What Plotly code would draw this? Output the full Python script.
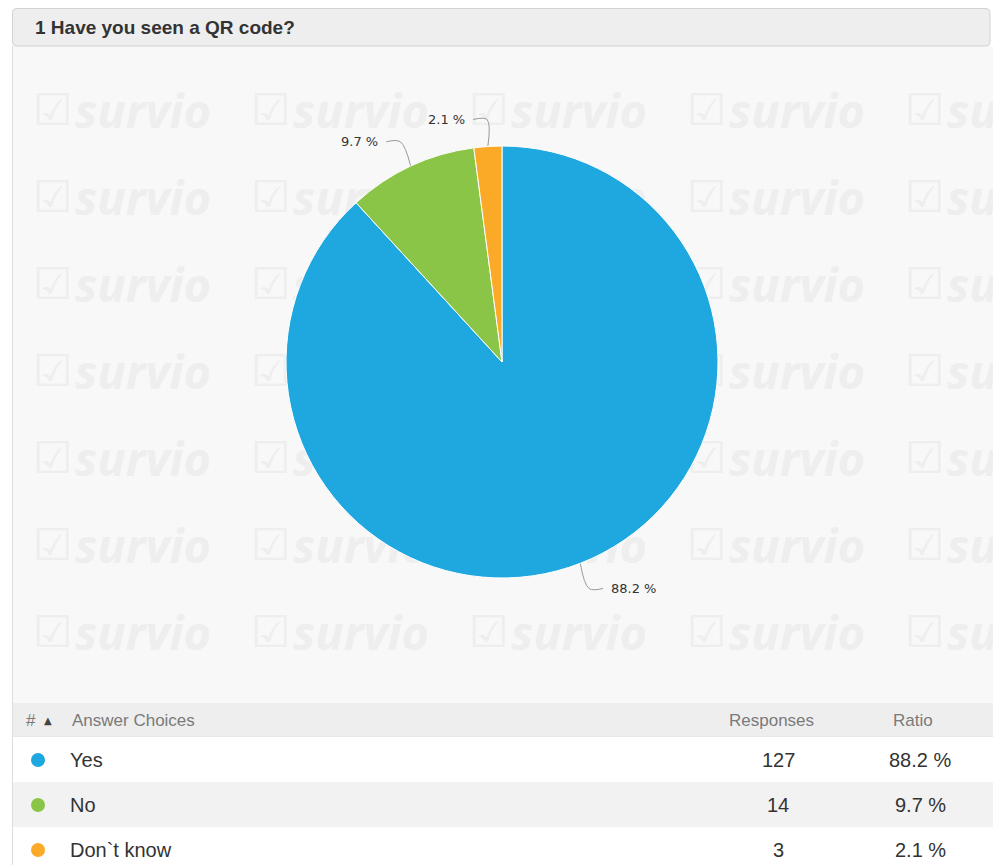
import math
import plotly.graph_objects as go

# ---- data ----
question = "1 Have you seen a QR code?"
choices = ["Yes", "No", "Don`t know"]
responses = [127, 14, 3]
colors = ["#1FA8E0", "#8BC547", "#FBAA27"]
header_cols = ["Answer Choices", "Responses", "Ratio"]

total = sum(responses)
ratios = [v / total * 100 for v in responses]
ratio_text = [f"{p:.1f} %" for p in ratios]

W, H = 993, 865

# pie geometry (pixels)
cx, cy, R = 502, 362, 216

fig = go.Figure()

# faint "survio" watermark tiles behind the chart
wm_x, wm_y = [], []
for row in range(7):
    for col in range(5):
        wm_x.append(33 + col * 218)
        wm_y.append(116 + row * 87)
fig.add_trace(go.Scatter(
    x=wm_x, y=[v - 2 for v in wm_y], mode="text", text=["☑"] * len(wm_x),
    textposition="middle right",
    textfont=dict(family="DejaVu Sans", size=44, color="#eeeeee"),
    hoverinfo="skip", showlegend=False))
fig.add_trace(go.Scatter(
    x=[v + 42 for v in wm_x], y=wm_y, mode="text", text=["survio"] * len(wm_x),
    textposition="middle right",
    textfont=dict(family="Open Sans", size=47, color="#eeeeee",
                  weight="bold", style="italic"),
    hoverinfo="skip", showlegend=False))

# pie
fig.add_trace(go.Pie(
    labels=choices, values=responses, sort=False, direction="clockwise",
    rotation=0, marker=dict(colors=colors, line=dict(color="white", width=1)),
    textinfo="none", hoverinfo="skip", showlegend=False,
    domain=dict(x=[(cx - R) / W, (cx + R) / W],
                y=[1 - (cy + R) / H, 1 - (cy - R) / H])))

# connectors and percentage labels
annotations = []
cum = 0.0
for v, txt in zip(responses, ratio_text):
    mid = (cum + v / 2) / total * 2 * math.pi
    cum += v
    dx, dy = math.sin(mid), -math.cos(mid)
    p0 = (cx + R * dx, cy + R * dy)
    p1 = (cx + (R + 27) * dx, cy + (R + 27) * dy)
    side = 1 if dx >= 0 else -1
    p2 = (p1[0] + side * 13, p1[1])
    fig.add_trace(go.Scatter(
        x=[p0[0], p1[0] - side * 1, p2[0]], y=[p0[1], p1[1], p2[1]],
        mode="lines", line=dict(color="#999999", width=1, shape="spline", smoothing=1.0),
        hoverinfo="skip", showlegend=False))
    annotations.append(dict(
        x=p2[0] + side * 6, y=p2[1], xref="x", yref="y", text=txt, showarrow=False,
        xanchor="left" if side > 0 else "right", yanchor="middle",
        font=dict(family="DejaVu Sans", size=13, color="#333333")))

shapes = []
# chart panel background
shapes.append(dict(type="rect", xref="x", yref="y", x0=12, x1=W, y0=46, y1=H,
                   fillcolor="#f8f8f8", line=dict(width=0), layer="below"))
# question header box with rounded corners
x0, x1, y0, y1, rr = 12.5, 990, 8.5, 46, 4
path = (f"M{x0+rr},{y0} L{x1-rr},{y0} Q{x1},{y0} {x1},{y0+rr} L{x1},{y1-rr} "
        f"Q{x1},{y1} {x1-rr},{y1} L{x0+rr},{y1} Q{x0},{y1} {x0},{y1-rr} "
        f"L{x0},{y0+rr} Q{x0},{y0} {x0+rr},{y0} Z")
shapes.append(dict(type="path", xref="x", yref="y", path=path, fillcolor="#eeeeee",
                   line=dict(color="#d2d2d2", width=1), layer="above"))
annotations.append(dict(x=33, y=27, xref="x", yref="y", text=f"<b>{question}</b>",
                        showarrow=False, xanchor="left", yanchor="middle",
                        font=dict(family="Liberation Sans", size=19, color="#333333")))

# table header
th0, th1 = 703, 737
shapes.append(dict(type="rect", xref="x", yref="y", x0=12, x1=W, y0=th0, y1=th1,
                   fillcolor="#eeeeee", line=dict(width=0), layer="above"))
shapes.append(dict(type="line", xref="x", yref="y", x0=12, x1=W, y0=th1, y1=th1,
                   line=dict(color="#e2e2e2", width=1), layer="above"))
hy = (th0 + th1) / 2
hfont = dict(family="Liberation Sans", size=17, color="#7a7a7a")
annotations.append(dict(x=24, y=hy, xref="x", yref="y", text="#", showarrow=False,
                        xanchor="left", yanchor="middle", font=hfont))
annotations.append(dict(x=42, y=hy, xref="x", yref="y", text="▲", showarrow=False,
                        xanchor="left", yanchor="middle",
                        font=dict(family="DejaVu Sans", size=10, color="#444444")))
annotations.append(dict(x=70, y=hy, xref="x", yref="y", text=header_cols[0],
                        showarrow=False, xanchor="left", yanchor="middle", font=hfont))
annotations.append(dict(x=771, y=hy, xref="x", yref="y", text=header_cols[1],
                        showarrow=False, xanchor="center", yanchor="middle", font=hfont))
annotations.append(dict(x=913, y=hy, xref="x", yref="y", text=header_cols[2],
                        showarrow=False, xanchor="center", yanchor="middle", font=hfont))

# table rows
row_h = 45
rfont = dict(family="Liberation Sans", size=20, color="#333333")
for i, (name, n, rt, col) in enumerate(zip(choices, responses, ratio_text, colors)):
    ry0 = th1 + i * row_h
    ry1 = ry0 + row_h
    shapes.append(dict(type="rect", xref="x", yref="y", x0=12, x1=W, y0=ry0, y1=ry1,
                       fillcolor="#ffffff" if i % 2 == 0 else "#f2f2f2",
                       line=dict(width=0), layer="above"))
    ym = ry0 + 23
    shapes.append(dict(type="circle", xref="x", yref="y", x0=31, x1=45,
                       y0=ym - 7, y1=ym + 7, fillcolor=col, line=dict(width=0),
                       layer="above"))
    annotations.append(dict(x=68, y=ym, xref="x", yref="y", text=name, showarrow=False,
                            xanchor="left", yanchor="middle", font=rfont))
    annotations.append(dict(x=778, y=ym, xref="x", yref="y", text=str(n), showarrow=False,
                            xanchor="center", yanchor="middle", font=rfont))
    annotations.append(dict(x=920, y=ym, xref="x", yref="y", text=rt, showarrow=False,
                            xanchor="center", yanchor="middle", font=rfont))

# left panel border
shapes.append(dict(type="line", xref="x", yref="y", x0=12.5, x1=12.5, y0=46, y1=H,
                   line=dict(color="#dddddd", width=1), layer="above"))

fig.update_layout(
    width=W, height=H, margin=dict(l=0, r=0, t=0, b=0),
    paper_bgcolor="white", plot_bgcolor="rgba(0,0,0,0)",
    xaxis=dict(range=[0, W], visible=False, fixedrange=True),
    yaxis=dict(range=[H, 0], visible=False, fixedrange=True),
    shapes=shapes, annotations=annotations, showlegend=False)

fig.write_html("out.html", config={"displayModeBar": False})
